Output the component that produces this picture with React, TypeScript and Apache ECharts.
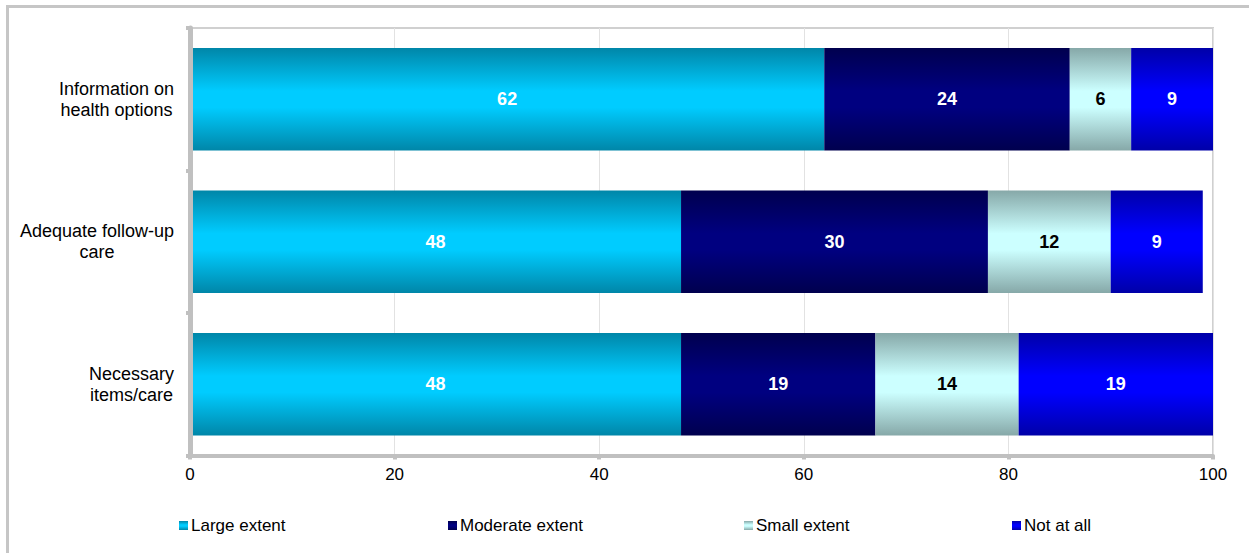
import React, { useEffect, useRef } from "react";
import * as echarts from "echarts";

const categories = [
  "Information on\nhealth options",
  "Adequate follow-up\ncare",
  "Necessary\nitems/care",
];
const seriesNames = ["Large extent", "Moderate extent", "Small extent", "Not at all"];
const largeExtent = [62, 48, 48];
const moderateExtent = [24, 30, 19];
const smallExtent = [6, 12, 14];
const notAtAll = [9, 9, 19];
const xTicks = [0, 20, 40, 60, 80, 100];

const darkColors = ["#0086a8", "#00004e", "#86a8a8", "#0000a8"];
const lightColors = ["#00ccff", "#000080", "#ccffff", "#0000ff"];
const labelColors = ["#ffffff", "#ffffff", "#000000", "#ffffff"];
const legendLefts = [179, 448, 744, 1012];

const FONT = "'Liberation Sans', Arial, Helvetica, sans-serif";

export default function App() {
  const ref = useRef<HTMLDivElement>(null);
  useEffect(() => {
    if (!ref.current) return;
    const chart = echarts.init(ref.current, null, { renderer: "svg" });
    const values = [largeExtent, moderateExtent, smallExtent, notAtAll];
    const grad = (i: number) =>
      new echarts.graphic.LinearGradient(0, 0, 0, 1, [
        { offset: 0, color: darkColors[i] },
        { offset: 0.42, color: lightColors[i] },
        { offset: 0.58, color: lightColors[i] },
        { offset: 1, color: darkColors[i] },
      ]);
    const series = seriesNames.map((name, i) => ({
      name,
      type: "bar",
      stack: "total",
      barWidth: "72%",
      clip: true,
      data: values[i],
      itemStyle: { color: grad(i) },
      label: {
        show: true,
        position: "inside",
        color: labelColors[i],
        fontWeight: "bold",
        fontSize: 18,
        fontFamily: FONT,
      },
    }));
    chart.setOption({
      animation: false,
      textStyle: { fontFamily: FONT },
      graphic: [
        {
          type: "rect",
          shape: { x: 7.5, y: 6.5, width: 1400, height: 700 },
          style: { fill: "none", stroke: "#c6c6c6", lineWidth: 3 },
          silent: true,
        },
      ],
      legend: seriesNames.map((name, i) => ({
        data: [{ name, icon: "rect" }],
        left: legendLefts[i],
        top: 517,
        itemWidth: 9,
        itemHeight: 9,
        itemGap: 0,
        padding: 0,
        selectedMode: false,
        textStyle: { fontSize: 17, color: "#000", fontFamily: FONT, padding: [0, 0, 0, -2] },
      })),
      grid: {
        left: 190,
        right: 36,
        top: 28,
        bottom: 97.5,
        show: true,
        borderColor: "#d0d0d0",
        borderWidth: 2,
        containLabel: false,
      },
      xAxis: {
        type: "value",
        min: xTicks[0],
        max: xTicks[xTicks.length - 1],
        interval: 20,
        axisLine: { show: true, lineStyle: { color: "#c0c0c0", width: 4 } },
        axisTick: { show: true, length: 4, lineStyle: { color: "#c0c0c0", width: 4 } },
        axisLabel: { fontSize: 17, color: "#000", margin: 10, fontFamily: FONT },
        splitLine: { show: true, lineStyle: { color: "#e2e2e2", width: 1 } },
      },
      yAxis: {
        type: "category",
        inverse: true,
        data: categories,
        z: 5,
        axisLine: { show: true, lineStyle: { color: "#c0c0c0", width: 5 } },
        axisTick: { show: true, length: 4, lineStyle: { color: "#c0c0c0", width: 4 } },
        axisLabel: {
          fontSize: 18,
          color: "#000",
          margin: 16,
          lineHeight: 21,
          fontFamily: FONT,
          formatter: (v: string) =>
            v
              .split("\n")
              .map((s) => `{c|${s}}`)
              .join("\n"),
          rich: {
            c: { align: "center", fontSize: 18, lineHeight: 21, color: "#000", fontFamily: FONT },
          },
        },
        splitLine: { show: false },
      },
      series,
    });
    return () => chart.dispose();
  }, []);
  return (
    <div
      ref={ref}
      style={{ position: "fixed", left: 0, top: 0, width: 1249, height: 553, background: "#fff" }}
    />
  );
}
